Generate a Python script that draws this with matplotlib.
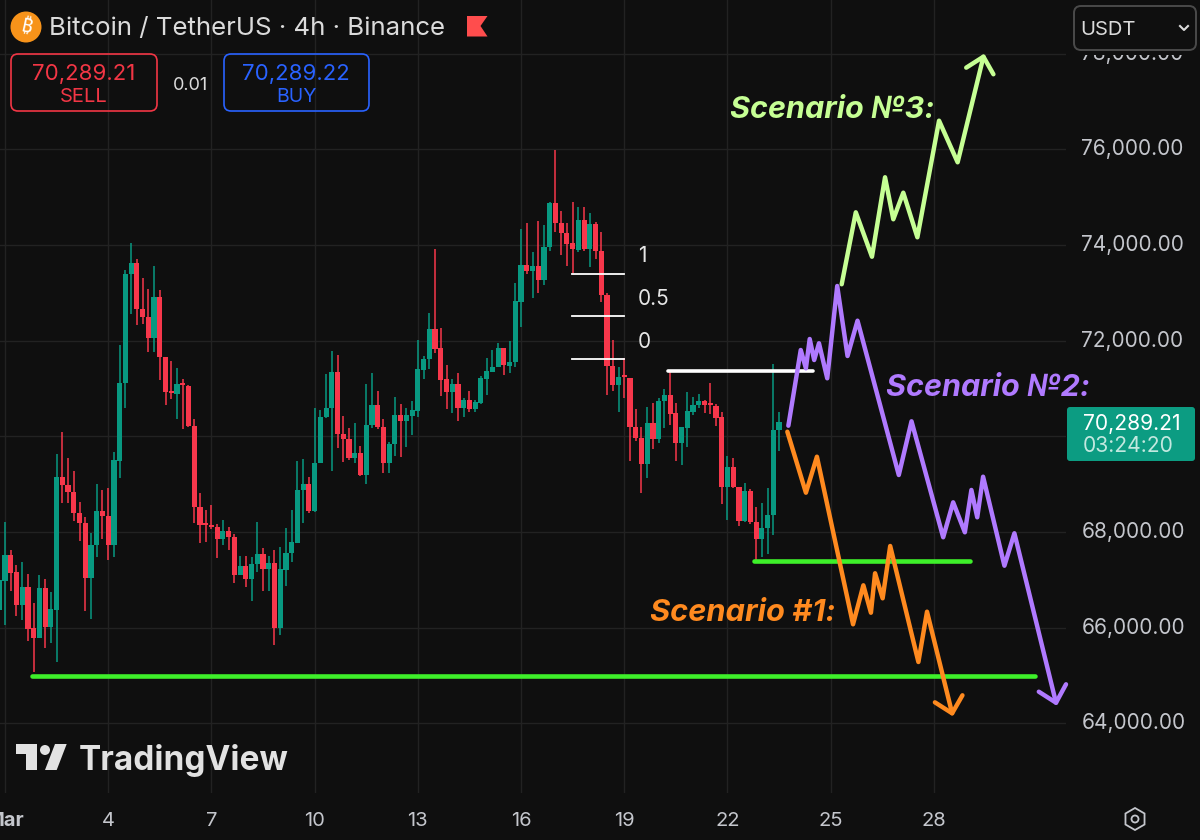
"""BTC/USDT 4h chart with three hand drawn scenarios."""
import matplotlib
matplotlib.use('Agg')
import matplotlib.pyplot as plt
from matplotlib.patches import Circle, FancyBboxPatch, Polygon, Rectangle
import numpy as np

plt.rcParams['font.family'] = ['Inter', 'DejaVu Sans']

COLORS = {
    'background': '#0f0f0f',
    'grid': '#222222',
    'up': '#089981',
    'down': '#f7374b',
    'text': '#dbdbdb',
    'axis': '#c4c6cc',
    'level': '#3ef02a',
    'white': '#ffffff',
    'scenario1': '#ff8a1f',
    'scenario2': '#b07aff',
    'scenario3': '#c6ff94',
    'sell': '#f23645',
    'buy': '#2962ff',
}

# 4h candles, first one opens just before 1 March
opens = [
    66372, 66985, 67521, 67166, 66476, 66859, 65989, 65787, 66838, 66023,
    66372, 69144, 68984, 68838, 68392, 68197, 67034, 67730, 68448, 68343,
    67737, 69493, 71109, 73394, 73616, 72662, 72495, 72056, 72920, 71659,
    70941, 70893, 71102, 71060, 70217, 68517, 68155, 68148, 68099, 67855,
    68023, 67890, 67096, 67284, 67013, 67340, 67535, 67229, 67354, 66003,
    67215, 67570, 67779, 68873, 69005, 68441, 69437, 70412, 70593, 71345,
    70050, 69952, 69555, 69653, 69186, 70231, 70649, 70196, 69451, 69841,
    70441, 70329, 70426, 70538, 71394, 71617, 72237, 71840, 71192, 70928,
    71088, 70593, 70754, 70579, 70705, 71206, 71353, 71450, 71840, 71478,
    71548, 72815, 73582, 73456, 73554, 73275, 73958, 74884, 74459, 74244,
    74035, 73902, 74515, 73909, 74439, 73881, 72955, 71478, 71074, 71262,
    71227, 70196, 69959, 69423, 70280, 69938, 70732, 70865, 70489, 69869,
    70175, 70517, 70649, 70739, 70670, 70642, 70398, 68935, 69353, 68935,
    68232, 68866, 68211, 67862, 68085, 68350, 70133,
]
highs = [
    67765, 68218, 67626, 67312, 67382, 67124, 66511, 67103, 67013, 66741,
    69632, 70099, 69548, 69270, 68636, 68322, 67988, 69005, 68880, 68921,
    69681, 71903, 73477, 74048, 73707, 73303, 73087, 73561, 73066, 71659,
    71575, 71429, 71199, 71074, 70356, 68810, 68462, 68566, 68162, 68253,
    68099, 67960, 67500, 67500, 67486, 68218, 67660, 67500, 67626, 67688,
    68078, 68462, 69486, 69520, 69144, 70593, 70551, 71311, 71777, 71708,
    70419, 70182, 70287, 69799, 71095, 71318, 70948, 70356, 69876, 70817,
    70677, 70587, 70747, 72014, 71680, 72586, 73916, 72258, 71492, 71192,
    71318, 70795, 70956, 70760, 71262, 71631, 71805, 71945, 71840, 71994,
    73199, 74334, 74452, 73846, 74501, 74418, 74905, 75985, 74710, 74452,
    74891, 74801, 74787, 74661, 74480, 74278, 72989, 72014, 71457, 71631,
    71227, 70572, 70189, 70607, 70705, 70809, 70983, 71352, 70691, 70189,
    70928, 70830, 70893, 70760, 71109, 70677, 70517, 69597, 69541, 68949,
    69019, 68893, 68517, 68601, 68928, 71506, 70517,
]
lows = [
    66232, 66058, 66776, 66246, 66163, 65731, 65083, 65787, 65571, 65675,
    65285, 68601, 68601, 68239, 67821, 66358, 66184, 67486, 67849, 67417,
    67486, 69123, 70600, 72551, 72328, 72349, 71770, 71770, 71178, 70656,
    70781, 70356, 70154, 70203, 68197, 67765, 67800, 68071, 67465, 67737,
    67626, 66943, 67096, 66859, 66567, 67173, 66776, 66776, 65640, 65849,
    66880, 67368, 67779, 68197, 68406, 68420, 69437, 70384, 69284, 69764,
    69472, 69506, 69437, 69172, 69005, 70182, 70147, 69242, 69228, 69591,
    69577, 69786, 70029, 70412, 71192, 71401, 71750, 70844, 70572, 70496,
    70329, 70412, 70517, 70517, 70670, 70865, 71339, 71443, 71283, 71332,
    71450, 72279, 73394, 72899, 72990, 73164, 73874, 74264, 73791, 73568,
    73408, 73860, 73874, 73533, 73700, 72815, 70865, 70948, 70517, 70795,
    69493, 69910, 68810, 69137, 69736, 69855, 70182, 70238, 69493, 69402,
    69771, 70440, 70586, 70496, 70461, 70224, 68587, 68253, 68915, 68134,
    68218, 68162, 67417, 67472, 67542, 67939, 69688,
]
closes = [
    66999, 67521, 67152, 66476, 66859, 65975, 65787, 66838, 66023, 66386,
    69144, 68984, 68838, 68392, 68197, 67034, 67730, 68448, 68343, 67737,
    69506, 71123, 73400, 73616, 72662, 72495, 72056, 72920, 71659, 70928,
    70914, 71088, 71067, 70217, 68517, 68141, 68141, 68099, 67855, 68023,
    67890, 67096, 67284, 67013, 67340, 67535, 67229, 67354, 66003, 67222,
    67570, 67786, 68873, 69005, 68441, 69437, 70412, 70593, 71345, 70050,
    69945, 69555, 69653, 69186, 70231, 70649, 70196, 69451, 69841, 70441,
    70329, 70441, 70545, 71408, 71624, 72237, 71833, 71185, 70928, 71088,
    70600, 70754, 70579, 70712, 71213, 71374, 71457, 71840, 71492, 71555,
    72822, 73582, 73456, 73554, 73275, 73958, 74884, 74459, 74244, 74021,
    73909, 74515, 73909, 74439, 73881, 72955, 71478, 71074, 71248, 71241,
    70196, 69959, 69423, 70280, 69938, 70739, 70865, 70475, 69869, 70189,
    70523, 70663, 70732, 70656, 70649, 70391, 68935, 69353, 68935, 68232,
    68866, 68204, 67862, 68085, 68350, 70133, 70294,
]

# x axis: day of the month, y axis: price
date_ticks = [1, 4, 7, 10, 13, 16, 19, 22, 25, 28]
date_labels = ['Mar', '4', '7', '10', '13', '16', '19', '22', '25', '28']
price_ticks = [64000, 66000, 68000, 70000, 72000, 74000, 76000, 78000]
# 70,000 sits under the last price tag
price_labels = ['64,000.00', '66,000.00', '68,000.00', '', '72,000.00', '74,000.00',
                '76,000.00', '78,000.00']

# drawn scenario paths
s1_days = [23.74, 24.28, 24.60, 25.65, 25.95, 26.17, 26.29, 26.51, 26.73, 27.55, 27.80, 28.53]
s1_prices = [70098, 68823, 69575, 66073, 66888, 66315, 67139, 66616, 67709, 65285, 66336, 64213]
s1_head_days = [28.03, 28.53, 28.83]
s1_head_prices = [64442, 64213, 64589]

s2_days = [23.77, 24.13, 24.28, 24.39, 24.52, 24.66, 24.90, 25.19, 25.49, 25.78, 26.98,
           27.35, 28.27, 28.56, 28.90, 29.09, 29.26, 29.43, 30.05, 30.34, 31.55]
s2_prices = [70223, 71805, 71423, 72035, 71596, 71946, 71214, 73143, 71680, 72418, 69193,
             70315, 67891, 68622, 67995, 68880, 68309, 69157, 67297, 67975, 64434]
s2_head_days = [31.05, 31.55, 31.84]
s2_head_prices = [64664, 64434, 64819]

s3_days = [25.32, 25.73, 26.20, 26.58, 26.82, 27.11, 27.52, 28.15, 28.69, 29.44]
s3_prices = [73179, 74683, 73755, 75415, 74537, 75093, 74161, 76598, 75728, 77935]
s3_head_days = [28.94, 29.44, 29.73]
s3_head_prices = [77706, 77935, 77568]

# horizontal levels: price, from day, to day
support_levels = [64992, 67396]
support_from = [1.785, 22.77]
support_to = [30.94, 29.05]
white_level = 71373
white_from, white_to = 20.27, 24.49
fib_prices = [73400, 72510, 71624]
fib_labels = ['1', '0.5', '0']
fib_from, fib_to = 17.47, 18.99

last_price = '70,289.21'
countdown = '03:24:20'
sell_price = '70,289.21'
buy_price = '70,289.22'
spread = '0.01'
title = 'Bitcoin / TetherUS · 4h · Binance'

fig = plt.figure(figsize=(12, 8.4), dpi=100, facecolor=COLORS['background'])
ax = fig.add_axes([0, 47 / 840, 1066 / 1200, 793 / 840], facecolor=COLORS['background'])
ax.set_xlim(0.855, 31.84)
ax.set_ylim(62547, 79120)

for side in ['top', 'right', 'left', 'bottom']:
    ax.spines[side].set_visible(False)
ax.yaxis.tick_right()
ax.set_xticks(date_ticks, date_labels)
ax.set_yticks(price_ticks, price_labels)
ax.tick_params(axis='x', length=0, pad=14, labelsize=14.5, labelcolor=COLORS['axis'])
ax.tick_params(axis='y', length=0, pad=11, labelsize=15, labelcolor=COLORS['axis'])
ax.get_xticklabels()[0].set_fontweight('bold')
for label in ax.get_yticklabels():
    label.set_verticalalignment('center')
ax.grid(True, color=COLORS['grid'], linewidth=1)
ax.set_axisbelow(True)

# candles
opens = np.array(opens)
closes = np.array(closes)
days = 1 + (np.arange(len(opens)) - 1) / 6
candle_colors = [COLORS['up'] if c >= o else COLORS['down'] for o, c in zip(opens, closes)]
ax.vlines(days, lows, highs, colors=candle_colors, linewidth=1.1, zorder=2)
body_height = np.maximum(np.abs(closes - opens), 40)
ax.bar(days, body_height, bottom=np.minimum(opens, closes), width=0.15,
       color=candle_colors, linewidth=0, zorder=3)

# levels
for price, start, end in zip(support_levels, support_from, support_to):
    ax.plot([start, end], [price, price], color=COLORS['level'], lw=3.3,
            solid_capstyle='round', zorder=4)
ax.plot([white_from, white_to], [white_level, white_level], color=COLORS['white'], lw=2.6,
        solid_capstyle='round', zorder=4)
for price, label in zip(fib_prices, fib_labels):
    ax.plot([fib_from, fib_to], [price, price], color=COLORS['white'], lw=1.3, zorder=4)

# scenarios
paths = [
    (s1_days, s1_prices, s1_head_days, s1_head_prices, COLORS['scenario1']),
    (s2_days, s2_prices, s2_head_days, s2_head_prices, COLORS['scenario2']),
    (s3_days, s3_prices, s3_head_days, s3_head_prices, COLORS['scenario3']),
]
for path_x, path_y, head_x, head_y, color in paths:
    ax.plot(path_x, path_y, color=color, lw=3.2, solid_capstyle='round',
            solid_joinstyle='round', zorder=5, clip_on=False)
    ax.plot(head_x, head_y, color=color, lw=3.2, solid_capstyle='round',
            solid_joinstyle='round', zorder=5, clip_on=False)

# everything on top of the chart is placed in pixels
over = fig.add_axes([0, 0, 1, 1])
over.set_xlim(0, 1200)
over.set_ylim(840, 0)
over.axis('off')


def round_box(x, y, w, h, edge, face='none', radius=7, lw=1.2):
    over.add_patch(FancyBboxPatch((x, y), w, h, boxstyle=f'round,pad=0,rounding_size={radius}',
                                  facecolor=face, edgecolor=edge, linewidth=lw))


# header
over.add_patch(Circle((26, 27), 15.5, color='#f7931a', linewidth=0))
over.text(26, 27, '₿', color='white', fontsize=14, fontweight='bold', rotation=-12,
          ha='center', va='center', family=['Noto Sans', 'Roboto', 'Open Sans', 'Lato', 'Liberation Sans'])
over.text(49, 29, title, color=COLORS['text'], fontsize=18.6, va='center')
over.add_patch(Polygon([(467, 16), (487.5, 16), (480.5, 26), (487.5, 36.5), (467, 36.5)],
                       closed=True, color='#ff4d4d', linewidth=0))

round_box(11, 54, 146, 57, COLORS['sell'])
over.text(84, 73.5, sell_price, color=COLORS['sell'], fontsize=16, ha='center', va='center')
over.text(84, 97, 'SELL', color=COLORS['sell'], fontsize=14.5, ha='center', va='center')
over.text(190, 85, spread, color=COLORS['text'], fontsize=13, ha='center', va='center')
round_box(224, 54, 145, 57, COLORS['buy'])
over.text(296, 73.5, buy_price, color=COLORS['buy'], fontsize=16, ha='center', va='center')
over.text(296, 97, 'BUY', color=COLORS['buy'], fontsize=14, ha='center', va='center')

# currency box hides the top of the 78,000 label
over.add_patch(Rectangle((1067, 0), 133, 54.5, color=COLORS['background'], linewidth=0))
round_box(1074, 6, 122, 44, '#4a4a4a', lw=1.4)
over.text(1080, 30, 'USDT', color=COLORS['text'], fontsize=14.5, va='center')
over.plot([1180, 1184, 1188], [26, 30, 26], color=COLORS['text'], lw=1.5)

# last price tag
over.add_patch(FancyBboxPatch((1067, 407), 128, 54, boxstyle='round,pad=0,rounding_size=3',
                              facecolor='#0c9c82', edgecolor='none'))
over.text(1083, 424.5, last_price, color='white', fontsize=15.2, va='center')
over.text(1083, 446, countdown, color='#c2e8df', fontsize=15.2, va='center')

# fib labels and scenario captions
for label, y in zip(fib_labels, [256, 299, 342]):
    over.text(638, y, label, color='#e6e6e6', fontsize=15, va='center')
over.text(730, 110, 'Scenario №3:', color=COLORS['scenario3'], fontsize=22,
          fontweight='bold', fontstyle='italic', va='center')
over.text(886, 388, 'Scenario №2:', color=COLORS['scenario2'], fontsize=22,
          fontweight='bold', fontstyle='italic', va='center')
over.text(650, 613, 'Scenario #1:', color=COLORS['scenario1'], fontsize=22.2,
          fontweight='bold', fontstyle='italic', va='center')

# TradingView logo
logo = '#e2e2e2'
over.add_patch(Polygon([(15.7, 744), (36.7, 744), (36.7, 770), (26, 770), (26, 754), (15.7, 754)],
                       closed=True, color=logo, linewidth=0))
over.add_patch(Circle((45, 750), 5, color=logo, linewidth=0))
over.add_patch(Polygon([(55, 744), (66.7, 744), (56.7, 770), (45, 770)], closed=True,
                       color=logo, linewidth=0))
over.text(79, 760.5, 'TradingView', color=logo, fontsize=24, fontweight='bold', va='center')

# settings icon
angles = np.deg2rad(np.arange(30, 390, 60))
over.add_patch(Polygon(np.column_stack([1135 + 11 * np.cos(angles), 819 + 11 * np.sin(angles)]),
                       closed=True, fill=False, edgecolor=COLORS['axis'], linewidth=1.3))
over.add_patch(Circle((1135, 819), 3.5, fill=False, edgecolor=COLORS['axis'], linewidth=1.3))

fig.savefig('out.png', dpi=100, facecolor=COLORS['background'])
